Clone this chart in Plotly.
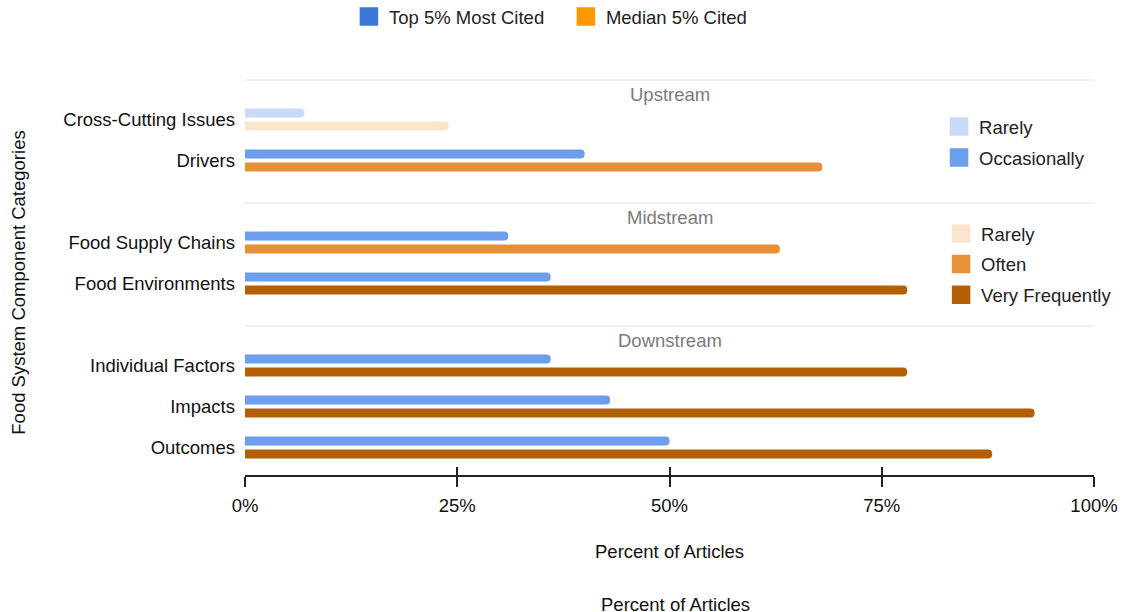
import plotly.graph_objects as go

# ---- data ----
categories = ["Cross-Cutting Issues", "Drivers", "Food Supply Chains", "Food Environments",
              "Individual Factors", "Impacts", "Outcomes"]
stream_groups = ["Upstream", "Upstream", "Midstream", "Midstream",
                 "Downstream", "Downstream", "Downstream"]
top5_pct = [7, 40, 31, 36, 36, 43, 50]
median5_pct = [24, 68, 63, 78, 78, 93, 88]
top5_freq = ["Rarely", "Occasionally", "Occasionally", "Occasionally",
             "Occasionally", "Occasionally", "Occasionally"]
median5_freq = ["Rarely", "Often", "Often", "Very Frequently",
                "Very Frequently", "Very Frequently", "Very Frequently"]
x_ticks = [0, 25, 50, 75, 100]
x_tick_labels = ["0%", "25%", "50%", "75%", "100%"]

# ---- styling ----
FONT = "Liberation Sans, Arial, sans-serif"
FS = 18.5
TOP_COLORS = {"Rarely": "#c9daf8", "Occasionally": "#6d9eeb"}
MED_COLORS = {"Rarely": "#fce5cd", "Often": "#e69138", "Very Frequently": "#b45f06"}
SERIES_COLORS = {"Top 5% Most Cited": "#3c78d8", "Median 5% Cited": "#ff9900"}
BAR_W = 0.22
BAR_SHIFT = 0.158

# row positions: one empty slot between stream groups
positions = []
group_first = {}
pos = 0
prev = None
for g in stream_groups:
    pos += 1 if prev in (None, g) else 2
    if g not in group_first:
        group_first[g] = pos
    positions.append(pos)
    prev = g

fig = go.Figure()


def add_bars(values, freqs, colors, shift, series):
    for level, col in colors.items():
        idx = [i for i, f in enumerate(freqs) if f == level]
        if not idx:
            continue
        fig.add_trace(go.Bar(
            x=[values[i] for i in idx],
            y=[positions[i] + shift for i in idx],
            orientation="h", width=BAR_W,
            marker=dict(color=col, cornerradius=4, line=dict(width=0)),
            name=f"{series} – {level}", showlegend=False,
            hovertemplate="%{x}%<extra></extra>",
        ))


add_bars(top5_pct, top5_freq, TOP_COLORS, -BAR_SHIFT, "Top 5% Most Cited")
add_bars(median5_pct, median5_freq, MED_COLORS, BAR_SHIFT, "Median 5% Cited")


def legend_entry(name, color, legend, group):
    fig.add_trace(go.Scatter(
        x=[None], y=[None], mode="markers", name=name, legend=legend,
        legendgroup=group, xaxis="x2", hoverinfo="skip",
        marker=dict(symbol="square", size=16, color=color, line=dict(width=2.5, color=color)),
    ))


for name, col in SERIES_COLORS.items():
    legend_entry(name, col, "legend", "s-" + name)
for name, col in TOP_COLORS.items():
    legend_entry(name, col, "legend2", "t-" + name)
for name, col in MED_COLORS.items():
    legend_entry(name, col, "legend3", "m-" + name)

# group separators and headers
shapes = []
annotations = []
for g, first in group_first.items():
    shapes.append(dict(type="line", xref="paper", x0=0, x1=1, yref="y",
                       y0=first - 0.96, y1=first - 0.96,
                       line=dict(color="#e8e8e8", width=1.2), layer="below"))
    annotations.append(dict(text=g, xref="paper", x=0.5, yref="y", y=first - 0.6,
                            showarrow=False, font=dict(family=FONT, size=FS, color="#7a7a7a")))

# axis titles
annotations += [
    dict(text="Percent of Articles", xref="paper", yref="paper", x=0.5, y=-0.2144,
         showarrow=False, font=dict(family=FONT, size=FS, color="#111")),
    dict(text="Percent of Articles", xref="paper", yref="paper", x=0.5074, y=-0.3423,
         showarrow=False, font=dict(family=FONT, size=FS, color="#111")),
    dict(text="Food System Component Categories", xref="paper", yref="paper",
         x=-0.2811, y=0.463, textangle=-90, showarrow=False,
         font=dict(family=FONT, size=FS, color="#111")),
]

legend_common = dict(font=dict(family=FONT, size=FS, color="#222"),
                     bgcolor="rgba(0,0,0,0)", borderwidth=0)

fig.update_layout(
    width=1128, height=612,
    margin=dict(l=245, r=34, t=60, b=137, pad=0, autoexpand=False),
    paper_bgcolor="white", plot_bgcolor="white",
    barmode="overlay",
    font=dict(family=FONT, size=FS, color="#111"),
    showlegend=True,
    legend=dict(orientation="h", x=0.1224, xanchor="left", y=1.1036, yanchor="middle",
                entrywidth=172, entrywidthmode="pixels", **legend_common),
    legend2=dict(x=0.8175, xanchor="left", y=(475 - 108) / 415, yanchor="top",
                 traceorder="grouped", tracegroupgap=4, **legend_common),
    legend3=dict(x=0.8199, xanchor="left", y=(475 - 215) / 415, yanchor="top",
                 traceorder="grouped", tracegroupgap=3.5, **legend_common),
    xaxis=dict(range=[0, 100], tickvals=x_ticks, ticktext=x_tick_labels, ticks="outside",
               ticklen=10, tickwidth=1.5, tickcolor="#222", showline=True,
               linecolor="#222", linewidth=1.5, showgrid=False, zeroline=False,
               ticklabelstandoff=3, tickfont=dict(family=FONT, size=FS, color="#111"),
               fixedrange=True),
    xaxis2=dict(range=[0, 100], tickvals=x_ticks, overlaying="x", anchor="y", side="bottom",
                ticks="inside", ticklen=8, tickwidth=1.5, tickcolor="#222",
                showticklabels=False, showline=False, showgrid=False, zeroline=False),
    yaxis=dict(range=[9.67, -0.451], tickvals=positions, ticktext=categories,
               ticks="", showline=False, showgrid=False, zeroline=False,
               ticklabelstandoff=9, tickfont=dict(family=FONT, size=FS, color="#111"),
               fixedrange=True),
    shapes=shapes,
    annotations=annotations,
)

fig.write_html("out.html")
